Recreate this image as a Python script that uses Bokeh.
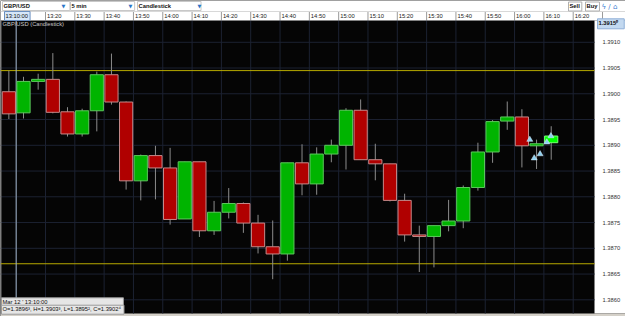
from bokeh.plotting import figure
from bokeh.models import Label, ColumnDataSource, Range1d
from bokeh.core.properties import value
from bokeh.embed import file_html
from bokeh.resources import INLINE

# ---------------- data ----------------
times = ["13:05", "13:10", "13:15", "13:20", "13:25", "13:30", "13:35", "13:40",
         "13:45", "13:50", "13:55", "14:00", "14:05", "14:10", "14:15", "14:20",
         "14:25", "14:30", "14:35", "14:40", "14:45", "14:50", "14:55", "15:00",
         "15:05", "15:10", "15:15", "15:20", "15:25", "15:30", "15:35", "15:40",
         "15:45", "15:50", "15:55", "16:00", "16:05", "16:10"]
opens = [1.39004, 1.38963, 1.39024, 1.39028, 1.38965, 1.38922, 1.38967, 1.39037,
         1.38984, 1.38831, 1.38880, 1.38856, 1.38757, 1.38868, 1.38734, 1.38770,
         1.38787, 1.38749, 1.38703, 1.38689, 1.38866, 1.38825, 1.38883, 1.38900,
         1.38968, 1.38872, 1.38864, 1.38793, 1.38726, 1.38723, 1.38744, 1.38753,
         1.38818, 1.38887, 1.38947, 1.38955, 1.38899, 1.38905]
highs = [1.39045, 1.39033, 1.39039, 1.39079, 1.38974, 1.38971, 1.39043, 1.39078,
         1.38985, 1.38882, 1.38899, 1.38895, 1.38868, 1.38868, 1.38792, 1.38817,
         1.38789, 1.38765, 1.38754, 1.38866, 1.38902, 1.38896, 1.38911, 1.38972,
         1.38989, 1.38903, 1.38864, 1.38806, 1.38744, 1.38744, 1.38794, 1.38822,
         1.38905, 1.38949, 1.38985, 1.38970, 1.38911, 1.38937]
lows = [1.38951, 1.38952, 1.39008, 1.38962, 1.38917, 1.38917, 1.38927, 1.38979,
        1.38814, 1.38793, 1.38795, 1.38746, 1.38757, 1.38722, 1.38726, 1.38758,
        1.38730, 1.38690, 1.38640, 1.38676, 1.38803, 1.38804, 1.38867, 1.38853,
        1.38872, 1.38832, 1.38791, 1.38713, 1.38654, 1.38663, 1.38733, 1.38739,
        1.38812, 1.38866, 1.38930, 1.38857, 1.38854, 1.38872]
closes = [1.38961, 1.39024, 1.39028, 1.38964, 1.38922, 1.38967, 1.39037, 1.38984,
          1.38831, 1.38880, 1.38856, 1.38756, 1.38868, 1.38734, 1.38770, 1.38787,
          1.38749, 1.38703, 1.38689, 1.38866, 1.38825, 1.38883, 1.38900, 1.38968,
          1.38872, 1.38864, 1.38793, 1.38726, 1.38723, 1.38744, 1.38753, 1.38818,
          1.38887, 1.38946, 1.38955, 1.38899, 1.38903, 1.38918]

tick_times = ["13:10", "13:20", "13:30", "13:40", "13:50", "14:00", "14:10", "14:20",
              "14:30", "14:40", "14:50", "15:00", "15:10", "15:20", "15:30", "15:40",
              "15:50", "16:00", "16:10", "16:20"]
price_ticks = [1.3860, 1.3865, 1.3870, 1.3875, 1.3880, 1.3885, 1.3890, 1.3895,
               1.3900, 1.3905, 1.3910]
level_lines = [1.39045, 1.38670]
cursor_time = "13:10"
marker_times = ["16:05:12", "16:06:42", "16:08:42", "16:11:00", "16:12:24"]
marker_prices = [1.38911, 1.38875, 1.38883, 1.38906, 1.38918]


def to_min(s):
    parts = s.split(":")
    m = int(parts[0]) * 60 + int(parts[1])
    if len(parts) > 2:
        m += int(parts[2]) / 60.0
    return m


FONT = "Liberation Sans"
FS = "5.8px"
W, H = 625, 316
CH_TOP, CH_BOT, CH_RIGHT = 20, 313, 594   # chart area in pixels

x_start = [to_min(t) for t in times]
centers = [t + 2.5 for t in x_start]
tops = [max(o, c) for o, c in zip(opens, closes)]
bottoms = [min(o, c) for o, c in zip(opens, closes)]
fills, lines = [], []
for i, (o, c) in enumerate(zip(opens, closes)):
    if i == len(opens) - 1:
        fills.append("#00ff00"); lines.append("#7cff7c")
    elif c >= o:
        fills.append("#00b400"); lines.append("#5cc85c")
    else:
        fills.append("#b00000"); lines.append("#c48a8a")

src = ColumnDataSource(dict(x=centers, top=tops, bottom=bottoms, high=highs, low=lows,
                            fill=fills, line=lines))

p = figure(width=W, height=H, output_backend="svg", toolbar_location=None,
           x_range=Range1d(784.65, 997.84), y_range=Range1d(1.385676, 1.391811),
           x_axis_location=None, y_axis_location=None,
           min_border=0, min_border_left=0, min_border_right=0,
           min_border_top=0, min_border_bottom=0)
p.extra_x_ranges = {"px": Range1d(0, W)}
p.extra_y_ranges = {"px": Range1d(H, 0)}
p.background_fill_color = "#050505"
p.border_fill_color = "#ffffff"
p.outline_line_color = None
p.grid.visible = False

tmins = [to_min(t) for t in tick_times]

# panels (header, right scale panel, bottom strip)
p.quad(left=[0, CH_RIGHT, 0], right=[W, W, W], top=[0, CH_TOP, CH_BOT], bottom=[CH_TOP, CH_BOT, H],
       fill_color=["#ffffff", "#ffffff", "#d4d0c8"], line_color=None,
       x_range_name="px", y_range_name="px")

# grid
p.segment(x0=tmins, x1=tmins, y0=[CH_TOP] * len(tmins), y1=[CH_BOT] * len(tmins),
          line_color="#1c2232", line_width=1, y_range_name="px")
p.segment(x0=[0] * len(price_ticks), x1=[CH_RIGHT] * len(price_ticks), y0=price_ticks, y1=price_ticks,
          line_color="#1c2232", line_width=1, x_range_name="px")
p.segment(x0=[0.5], x1=[0.5], y0=[CH_TOP], y1=[CH_BOT], line_color="#7a7a7a", line_width=1,
          x_range_name="px", y_range_name="px")

# header separators and time labels
p.segment(x0=tmins + [tmins[-1] + 10], x1=tmins + [tmins[-1] + 10],
          y0=[11] * (len(tmins) + 1), y1=[CH_TOP] * (len(tmins) + 1),
          line_color="#9a9a9a", line_width=1, y_range_name="px")
p.segment(x0=[0], x1=[W], y0=[11], y1=[11], line_color="#d8d8d8", line_width=1,
          x_range_name="px", y_range_name="px")
p.text(x=tmins[1:], y=[15.8] * (len(tmins) - 1), text=tick_times[1:], x_offset=1.5,
       text_align="left", text_baseline="middle", text_font=value(FONT),
       text_font_size=value(FS), text_color="#222222", y_range_name="px")

# price labels
p.text(x=[CH_RIGHT + 8] * len(price_ticks), y=price_ticks, text=["%.4f" % v for v in price_ticks],
       text_align="left", text_baseline="middle", text_font=value(FONT),
       text_font_size=value(FS), text_color="#333333", x_range_name="px")

# level lines and cursor
p.segment(x0=[0] * len(level_lines), x1=[CH_RIGHT] * len(level_lines), y0=level_lines, y1=level_lines,
          line_color="#b8aa00", line_width=1, x_range_name="px")
p.segment(x0=[to_min(cursor_time)], x1=[to_min(cursor_time)], y0=[CH_TOP], y1=[CH_BOT],
          line_color="#9fb2c6", line_width=1, y_range_name="px")

# candles
p.segment(x0="x", y0="low", x1="x", y1="high", source=src, line_color="#8c8c8c", line_width=1)
p.vbar(x="x", width=4.5, top="top", bottom="bottom", source=src,
       fill_color="fill", line_color="line", line_width=1)

# trade markers
p.scatter([to_min(t) for t in marker_times], marker_prices, marker="triangle", size=6,
          fill_color="#8fd0f0", line_color="#d8f0ff", line_width=0.5)


def lab(x, yc, text, **kw):
    opts = dict(x=x, y=H - yc, x_units="screen", y_units="screen", text=text,
                text_baseline="middle", text_align="left", text_font=FONT,
                text_font_size=FS, text_color="#111111")
    opts.update(kw)
    p.add_layout(Label(**opts))


# header toolbar
for x0, txt, wpad, tri in [(2, "GBP/USD", 40, 61), (70, "5 min", 48, 128), (137, "Candlestick", 30, 197)]:
    lab(x0, 5.5, txt, text_font_style="bold", background_fill_color="#ffffff",
        border_line_color="#c8c8c8", padding=(1, wpad, 1, 2))
    lab(tri, 5.5, "\u25bc", text_color="#2a74c8", text_font="DejaVu Sans", text_font_size="5px")
lab(568, 6, "Sell", text_font_style="bold", background_fill_color="#ffffff",
    border_line_color="#b0b0b0", padding=(1, 2, 1, 2))
lab(585, 6, "Buy", text_font_style="bold", background_fill_color="#ffffff",
    border_line_color="#b0b0b0", padding=(1, 2, 1, 2))
lab(601, 6, "\u03df \u2215 \u2302", text_color="#3a7ad0", text_font="DejaVu Sans", text_font_size="7px")

# cursor time box and price box
lab(4, 15.5, "13:10:00", background_fill_color="#d6e6f8", border_line_color="#6a8fbf",
    padding=(1, 2, 1, 2))
lab(597, 23.3, "1.3915\u2070", text_font_style="bold", background_fill_color="#c3d9f0",
    border_line_color="#8fb0d8", padding=(1, 6, 1, 3))

# chart title
lab(2, 23.5, "GBP/USD (Candlestick)", text_color="#c8c8c8")

# info box
lab(1, 301.8, "Mar 12 ' 13:10:00", background_fill_color="#e6e6e6", border_line_color="#9a9a9a",
    padding=(1, 76, 1, 2))
lab(1, 309.2, "O=1.3896\u00b3, H=1.3903\u00b3, L=1.3895\u00b2, C=1.3902\u2074",
    background_fill_color="#e6e6e6", border_line_color="#9a9a9a", padding=(1, 3, 1, 2))

open("out.html", "w").write(file_html(p, INLINE))
